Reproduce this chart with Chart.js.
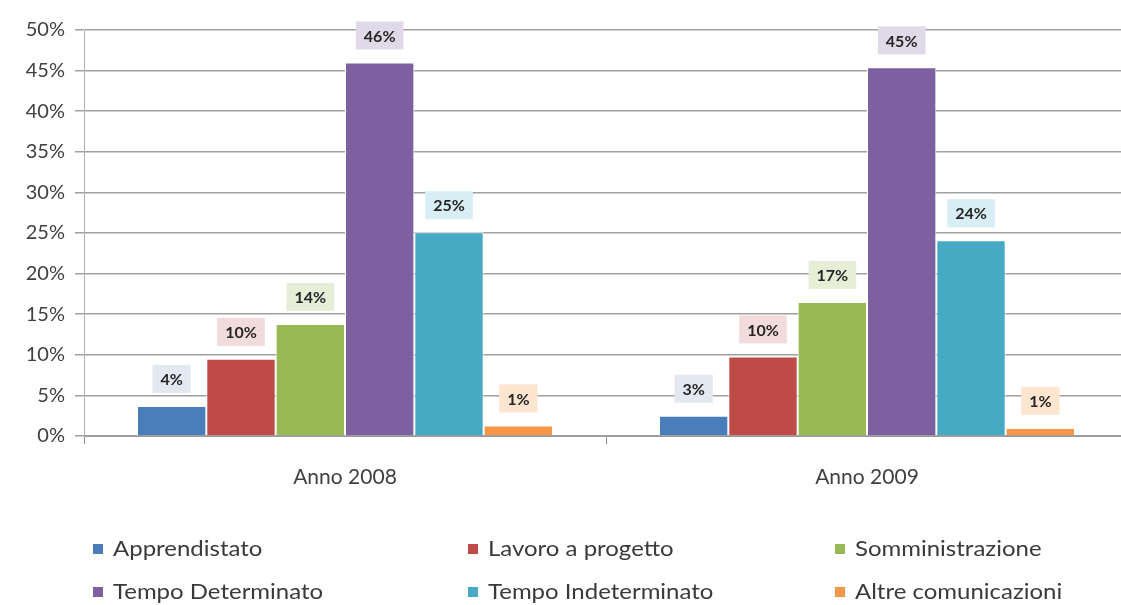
<!DOCTYPE html>
<html>
<head>
<meta charset="utf-8">
<script src="https://cdn.jsdelivr.net/npm/chart.js@4/dist/chart.umd.min.js"></script>
<style>
  html, body { margin: 0; padding: 0; background: #fff; overflow: hidden; }
  #chart-holder { width: 1130px; height: 605px; position: relative; }
</style>
</head>
<body>
<div id="chart-holder"><canvas id="chart"></canvas></div>
<script>
// values (percent)
categories = ['Anno 2008', 'Anno 2009'];
seriesNames = ['Apprendistato', 'Lavoro a progetto', 'Somministrazione',
               'Tempo Determinato', 'Tempo Indeterminato', 'Altre comunicazioni'];
apprendistato = [3.7, 2.5];
lavoroProgetto = [9.5, 9.8];
somministrazione = [13.8, 16.5];
tempoDeterminato = [46.0, 45.4];
tempoIndeterminato = [25.1, 24.1];
altre = [1.3, 1.0];
yTicks = [0, 5, 10, 15, 20, 25, 30, 35, 40, 45, 50];

colours = ['#4a7ebb', '#be4b48', '#98b954', '#7d60a0', '#46aac5', '#f79646'];
labelBg = ['#e4e9f1', '#f2dcdb', '#e6eed8', '#e0dae8', '#d8eef4', '#fde5d0'];

var seriesValues = [apprendistato, lavoroProgetto, somministrazione,
                    tempoDeterminato, tempoIndeterminato, altre];

var data = {
  labels: categories,
  datasets: seriesNames.map(function(name, i) {
    return {
      label: name,
      data: seriesValues[i],
      backgroundColor: colours[i],
      borderColor: '#ffffff',
      borderWidth: 1,
      borderSkipped: 'start',
      labelBg: labelBg[i]
    };
  })
};

// boxed value labels above each bar
var valueLabels = {
  id: 'valueLabels',
  afterDatasetsDraw: function(chart) {
    var ctx = chart.ctx;
    ctx.save();
    ctx.font = 'bold 16px Lato';
    ctx.textAlign = 'center';
    ctx.textBaseline = 'middle';
    chart.data.datasets.forEach(function(ds, i) {
      chart.getDatasetMeta(i).data.forEach(function(bar, j) {
        var txt = Math.round(ds.data[j]) + '%';
        var w = ctx.measureText(txt).width + 16;
        var cy = bar.y - 27;
        ctx.fillStyle = ds.labelBg;
        ctx.fillRect(bar.x - w / 2, cy - 14, w, 28);
        ctx.fillStyle = '#262626';
        ctx.fillText(txt, bar.x, cy + 1);
      });
    });
    ctx.restore();
  }
};

// legend in two rows of three, like the original
var gridLegend = {
  id: 'gridLegend',
  afterDraw: function(chart) {
    var ctx = chart.ctx;
    var cols = [93, 468, 835];
    var rows = [549, 592];
    ctx.save();
    ctx.font = '22px Lato';
    ctx.textBaseline = 'middle';
    ctx.textAlign = 'left';
    chart.data.datasets.forEach(function(ds, i) {
      var x = cols[i % 3];
      var y = rows[Math.floor(i / 3)];
      ctx.fillStyle = ds.backgroundColor;
      ctx.fillRect(x, y - 5, 10, 10);
      ctx.save();
      ctx.translate(x + 20, y);
      ctx.scale(1.09, 1);
      ctx.fillStyle = '#3a3a3a';
      ctx.fillText(ds.label, 0, 0);
      ctx.restore();
    });
    ctx.restore();
  }
};

var ctx = document.getElementById('chart').getContext('2d');
var chart = new Chart(ctx, {
  type: 'bar',
  data: data,
  plugins: [valueLabels, gridLegend],
  options: {
    responsive: true,
    maintainAspectRatio: false,
    animation: false,
    categoryPercentage: 0.797,
    barPercentage: 1,
    layout: { padding: { top: 30, right: 2, bottom: 89, left: 0 } },
    plugins: {
      legend: { display: false },
      tooltip: { enabled: false }
    },
    scales: {
      x: {
        grid: { drawOnChartArea: false, drawTicks: true, tickLength: 8, color: '#8c8c8c', offset: true },
        border: { color: '#9a9a9a', width: 1 },
        ticks: { color: '#404040', font: { family: 'Lato', size: 21 }, padding: 21 },
        afterFit: function(scale) { scale.height = 80; }
      },
      y: {
        min: 0,
        max: 50,
        afterBuildTicks: function(scale) {
          scale.ticks = yTicks.map(function(v) { return { value: v }; });
        },
        grid: { color: '#a0a0a0', lineWidth: 1.5, tickLength: 9 },
        border: { color: '#b0b0b0', width: 1 },
        ticks: {
          color: '#404040',
          font: { family: 'Lato', size: 20 },
          padding: 10,
          callback: function(v) { return v + '%'; }
        },
        afterFit: function(scale) { scale.width = 84; }
      }
    }
  }
});
</script>
</body>
</html>
